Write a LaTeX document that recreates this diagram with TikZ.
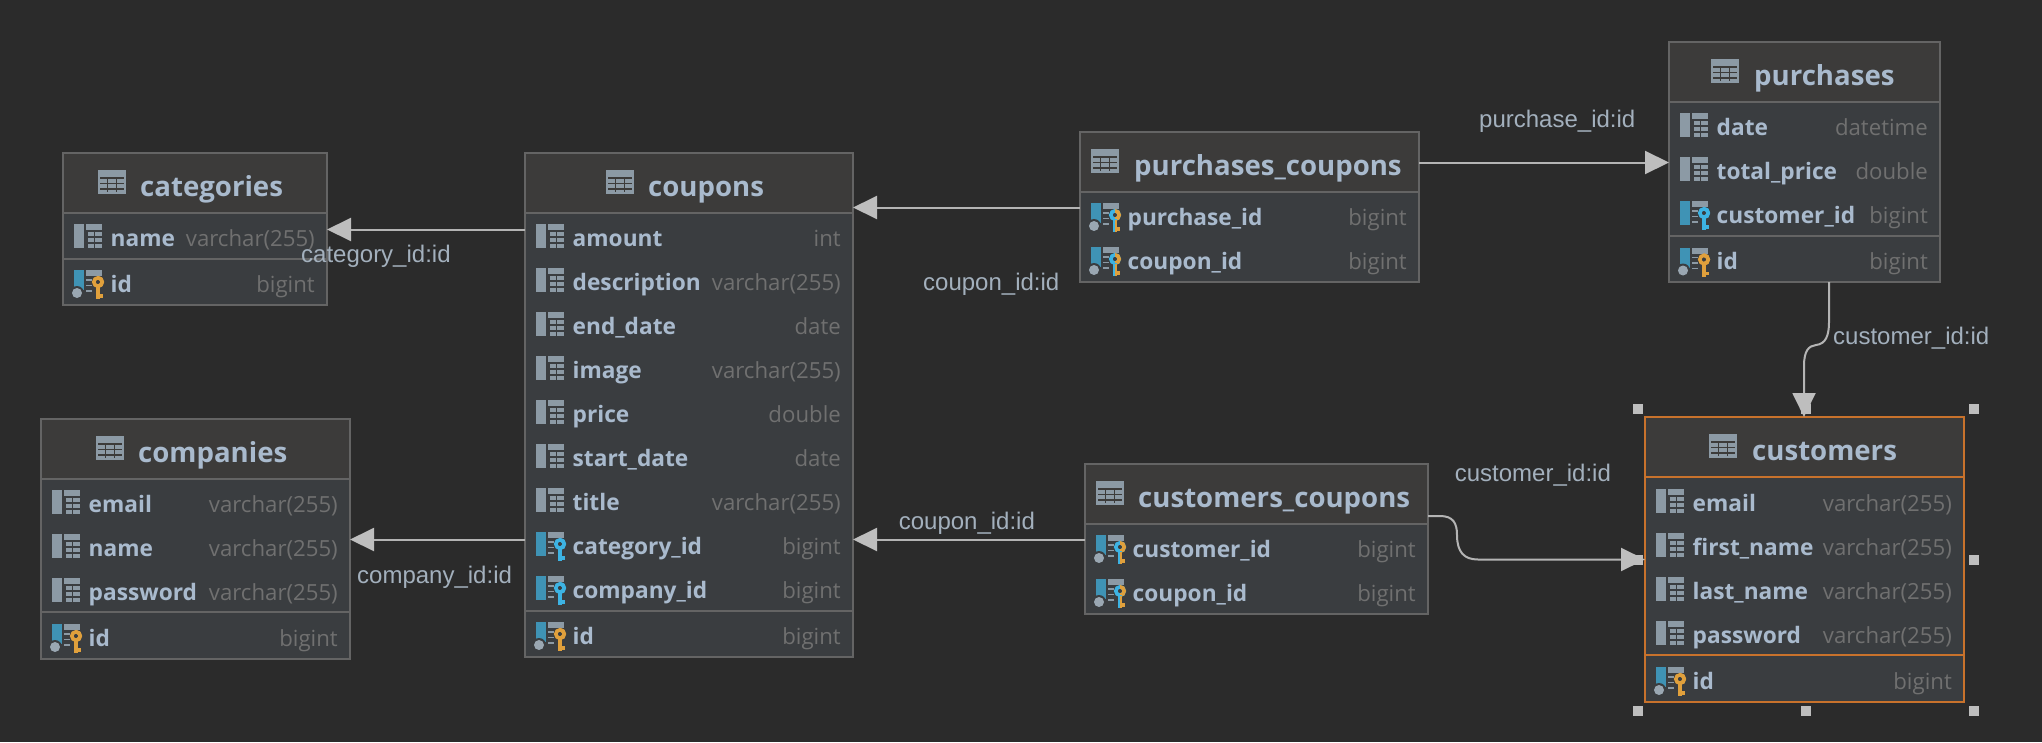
\documentclass[tikz,border=0pt]{standalone}
\usepackage{fontspec}
\setmainfont{Open Sans}
\newfontfamily\labelfont{Liberation Sans}
\usetikzlibrary{arrows.meta,calc}
\definecolor{bgc}{HTML}{2B2B2B}
\definecolor{hdrc}{HTML}{3C3B3A}
\definecolor{bodyc}{HTML}{3A3D40}
\definecolor{edgec}{HTML}{646464}
\definecolor{selc}{HTML}{C8722C}
\definecolor{titlec}{HTML}{A9BACD}
\definecolor{typec}{HTML}{707070}
\definecolor{linec}{HTML}{B4B4B4}
\definecolor{headc}{HTML}{BEBEBE}
\definecolor{iconc}{HTML}{8C9AA5}
\definecolor{barc}{HTML}{3F93B5}
\definecolor{goldc}{HTML}{E0A03C}
\definecolor{bluec}{HTML}{3DB3E3}
\definecolor{dotc}{HTML}{9AA7B2}
\definecolor{labelc}{HTML}{A3B0BD}
\tikzset{
  x=1pt,y=-1pt,
  conn/.style={draw=linec,line width=2pt,-{Triangle[length=24pt,width=23pt,fill=headc,color=headc]},rounded corners=0pt},
  titletext/.style={anchor=base west,inner sep=0,text=titlec,font=\fontsize{27.6}{31}\selectfont\bfseries},
  fieldtext/.style={anchor=base west,inner sep=0,text=titlec,font=\fontsize{22.7}{25}\selectfont\bfseries},
  typetext/.style={anchor=base east,inner sep=0,text=typec,font=\fontsize{22.2}{25}\selectfont},
  linklabel/.style={anchor=base west,inner sep=0,text=labelc,font=\labelfont\fontsize{24}{28}\selectfont},
  handlemark/.style={fill=headc,draw=none,minimum size=10.5pt,inner sep=0,rectangle},
}
% table frame
\newcommand\dbtable[9]{% name x0 top x1 bottom title iconx textx edgecolour
  \fill[bodyc] (#2,#3) rectangle (#4,#5);
  \fill[hdrc] (#2,#3) rectangle (#4,#3+60);
  \draw[#9,line width=2pt] (#2,#3+60) -- (#4,#3+60);
  \node[draw=#9,line width=1.6pt,rectangle,inner sep=0,outer sep=0,anchor=north west,
    minimum width=#4pt-#2pt,minimum height=#5pt-#3pt] (#1) at (#2,#3) {};
  \tableicon{#7}{#3+17}
  \node[titletext] (#1-title) at (#8,#3+43) {#6};
}
\newcommand\tableicon[2]{%
  \fill[iconc] (#1,#2) rectangle ++(28,24);
  \foreach \gx in {9.3,18.6} \fill[hdrc] (#1+\gx-.6,#2+7) rectangle ++(1.2,15);
  \foreach \gy in {7,12.5,18} \fill[hdrc] (#1+2,#2+\gy) rectangle (#1+26,#2+\gy+1.5);
}
\newcommand\barcol[2]{% x baseline
  \fill[iconc] (#1+11,#2-22) rectangle ++(10,24);
  \fill[iconc] (#1+23,#2-22) rectangle ++(16,24);
  \fill[bodyc] (#1+31,#2-16) rectangle ++(1.2,18);
  \foreach \gy in {-16,-10,-4} \fill[bodyc] (#1+23,#2+\gy) rectangle ++(16,1.6);
  \fill[bodyc] (#1+23,#2-14.4) rectangle ++(2,16.4);
}
\newcommand\keyglyph[4]{% x baseline ringcolour toothcolour
  \draw[#3,line width=3.6pt] (#1+35,#2-10) circle (4.2);
  \begin{scope}
    \clip (#1+35,#2-17) rectangle ++(8,14);
    \draw[#4,line width=3.6pt] (#1+35,#2-10) circle (4.2);
  \end{scope}
  \fill[#3] (#1+33,#2-6) rectangle ++(3.6,13);
  \fill[#4] (#1+35,#2-5) rectangle ++(1.7,12);
  \fill[#4] (#1+36.7,#2+2) rectangle ++(3.3,3.5);
}
\newcommand\keybase[2]{%
  \fill[iconc] (#1+23,#2-22) rectangle ++(16,6);
  \foreach \gy in {-13,-7.5,-2} \fill[iconc] (#1+23,#2+\gy) rectangle ++(6,1.8);
}
\newcommand\dotmark[2]{%
  \fill[barc] (#1+11,#2-22) rectangle ++(10,20);
  \fill[bodyc] (#1+14,#2+1) circle (7);
  \fill[dotc] (#1+14,#2+1) circle (5);
}
% rows: x0 x1 baseline name type
\newcommand\plainrow[5]{\barcol{#1}{#3}\rowtext{#1}{#2}{#3}{#4}{#5}}
\newcommand\fkrow[5]{\keybase{#1}{#3}\fill[barc] (#1+11,#3-22) rectangle ++(10,24);\keyglyph{#1}{#3}{bluec}{bluec}\rowtext{#1}{#2}{#3}{#4}{#5}}
\newcommand\pkrow[5]{\keybase{#1}{#3}\dotmark{#1}{#3}\keyglyph{#1}{#3}{goldc}{goldc}\rowtext{#1}{#2}{#3}{#4}{#5}}
\newcommand\pkfkrow[5]{\keybase{#1}{#3}\dotmark{#1}{#3}\keyglyph{#1}{#3}{bluec}{goldc}\rowtext{#1}{#2}{#3}{#4}{#5}}
\newcommand\rowtext[5]{%
  \node[fieldtext] at (#1+47.5,#3) {#4};
  \node[typetext] at (#2-12,#3) {#5};
}
\newcommand\seprule[4]{\draw[#4,line width=2pt] (#1,#3) -- (#2,#3);}
\begin{document}
\begin{tikzpicture}
\useasboundingbox (0,0) rectangle (2042,742);
\fill[bgc] (0,0) rectangle (2042,742);

% categories
\dbtable{categories}{63}{153}{327}{305}{categories}{98}{140}{edgec}
\plainrow{63}{327}{246}{name}{varchar(255)}
\seprule{63}{327}{259}{edgec}
\pkrow{63}{327}{292}{id}{bigint}

% coupons
\dbtable{coupons}{525}{153}{853}{657}{coupons}{606}{648}{edgec}
\plainrow{525}{853}{246}{amount}{int}
\plainrow{525}{853}{290}{description}{varchar(255)}
\plainrow{525}{853}{334}{end\_date}{date}
\plainrow{525}{853}{378}{image}{varchar(255)}
\plainrow{525}{853}{422}{price}{double}
\plainrow{525}{853}{466}{start\_date}{date}
\plainrow{525}{853}{510}{title}{varchar(255)}
\fkrow{525}{853}{554}{category\_id}{bigint}
\fkrow{525}{853}{598}{company\_id}{bigint}
\seprule{525}{853}{610.5}{edgec}
\pkrow{525}{853}{644}{id}{bigint}

% companies
\dbtable{companies}{41}{419}{350}{659}{companies}{96}{138}{edgec}
\plainrow{41}{350}{512}{email}{varchar(255)}
\plainrow{41}{350}{556}{name}{varchar(255)}
\plainrow{41}{350}{600}{password}{varchar(255)}
\seprule{41}{350}{612}{edgec}
\pkrow{41}{350}{646}{id}{bigint}

% purchases_coupons
\dbtable{purchasescoupons}{1080}{132}{1419}{282}{purchases\_coupons}{1091}{1134}{edgec}
\pkfkrow{1080}{1419}{225}{purchase\_id}{bigint}
\pkfkrow{1080}{1419}{269}{coupon\_id}{bigint}

% customers_coupons
\dbtable{customerscoupons}{1085}{464}{1428}{614}{customers\_coupons}{1096}{1138}{edgec}
\pkfkrow{1085}{1428}{557}{customer\_id}{bigint}
\pkfkrow{1085}{1428}{601}{coupon\_id}{bigint}

% purchases
\dbtable{purchases}{1669}{42}{1940}{282}{purchases}{1711}{1754}{edgec}
\plainrow{1669}{1940}{135}{date}{datetime}
\plainrow{1669}{1940}{179}{total\_price}{double}
\fkrow{1669}{1940}{223}{customer\_id}{bigint}
\seprule{1669}{1940}{236}{edgec}
\pkrow{1669}{1940}{269.5}{id}{bigint}

% customers
\dbtable{customers}{1645}{417}{1964}{702}{customers}{1709}{1752}{selc}
\plainrow{1645}{1964}{511}{email}{varchar(255)}
\plainrow{1645}{1964}{555}{first\_name}{varchar(255)}
\plainrow{1645}{1964}{599}{last\_name}{varchar(255)}
\plainrow{1645}{1964}{643}{password}{varchar(255)}
\seprule{1645}{1964}{655}{selc}
\pkrow{1645}{1964}{689}{id}{bigint}

% connectors
\coordinate (y1) at (0,229.5);
\coordinate (y2) at (0,207.5);
\coordinate (y3) at (0,539.5);
\coordinate (y4) at (0,162.5);
\draw[conn] (coupons.west |- y1) -- (categories.east |- y1);
\draw[conn] (purchasescoupons.west |- y2) -- (coupons.east |- y2);
\draw[conn] (coupons.west |- y3) -- (companies.east |- y3);
\draw[conn] (customerscoupons.west |- y3) -- (coupons.east |- y3);
\draw[conn] (purchasescoupons.east |- y4) -- (purchases.west |- y4);
\coordinate (c1) at (1829,282);
\coordinate (c2) at (1804,416);
\draw[conn] (purchases.south -| c1) -- (1829,322)
  .. controls (1829,335) and (1826,344) .. (1816,345)
  .. controls (1809,346) and (1804,350) .. (1804,366) -- (customers.north -| c2);
\coordinate (c3) at (0,516);
\coordinate (c4) at (0,559.5);
\draw[conn] (customerscoupons.east |- c3) -- (1440,516)
  .. controls (1453,516) and (1457,523) .. (1457,535)
  .. controls (1457,552) and (1464,559.5) .. (1478,559.5) -- (customers.west |- c4);

% selection handles
\foreach \hn/\hx/\hy in {a/1638/409,b/1806/409,c/1974/409,d/1638/560,e/1974/560,f/1638/711,g/1806/711,h/1974/711}
  \node[handlemark] (handle-\hn) at (\hx,\hy) {};

% labels
\node[linklabel] (l1) at (301,262.7) {category\_id:id};
\node[linklabel] (l2) at (923,290.7) {coupon\_id:id};
\node[linklabel] (l3) at (357,583.7) {company\_id:id};
\node[linklabel] (l4) at (898.6,529.7) {coupon\_id:id};
\node[linklabel] (l5) at (1479,127) {purchase\_id:id};
\node[linklabel] (l6) at (1454.6,481) {customer\_id:id};
\node[linklabel] (l7) at (1833,344) {customer\_id:id};
\end{tikzpicture}
\end{document}
